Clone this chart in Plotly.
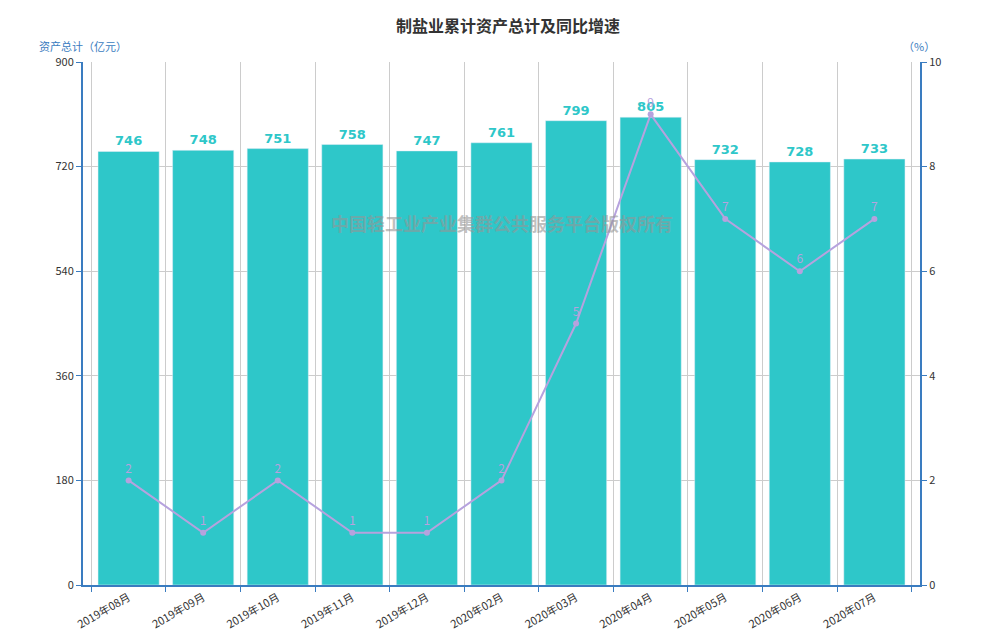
import plotly.graph_objects as go

months = ["2019年08月", "2019年09月", "2019年10月", "2019年11月", "2019年12月", "2020年02月",
          "2020年03月", "2020年04月", "2020年05月", "2020年06月", "2020年07月"]
assets = [746, 748, 751, 758, 747, 761, 799, 805, 732, 728, 733]
growth = [2, 1, 2, 1, 1, 2, 5, 9, 7, 6, 7]

fig = go.Figure()
fig.add_trace(go.Bar(
    x=months, y=assets, marker_color="#2ec7c9", width=0.82,
    text=assets, texttemplate="<b>%{text}</b>", textposition="outside", cliponaxis=False,
    textfont=dict(color="#2ec7c9", size=13, family="DejaVu Sans"),
))
fig.add_trace(go.Scatter(
    x=months, y=growth, yaxis="y2", mode="lines+markers+text",
    line=dict(color="#b6a2de", width=2), marker=dict(size=6, color="#b6a2de"),
    text=growth, textposition="top center", textfont=dict(color="#b6a2de", size=12),
    cliponaxis=False,
))

fig.update_layout(
    width=1000, height=640, plot_bgcolor="white", paper_bgcolor="white",
    margin=dict(l=75, r=88, t=54, b=63), showlegend=False, bargap=0.18,
    font=dict(family="Noto Sans CJK SC", color="#333", size=11),
    title=dict(text="<b>制盐业累计资产总计及同比增速</b>", x=0.5, y=0.98, font=dict(size=16, color="#333")),
    xaxis=dict(showgrid=True, gridcolor="#ccc", tickangle=-30, showline=True, linecolor="#3a7cc0",
               tickson="boundaries", linewidth=2, ticks="outside", tickcolor="#3a7cc0"),
    yaxis=dict(range=[0, 900], tickvals=[0, 180, 360, 540, 720, 900], gridcolor="#ccc",
               showline=True, linecolor="#3a7cc0", linewidth=2, ticks="outside", tickcolor="#3a7cc0",
               zeroline=False),
    yaxis2=dict(range=[0, 10], tickvals=[0, 2, 4, 6, 8, 10], overlaying="y", side="right",
                showgrid=False, showline=True, linecolor="#3a7cc0", linewidth=2, ticks="outside",
                tickcolor="#3a7cc0", zeroline=False),
    annotations=[
        dict(text="资产总计（亿元）", xref="paper", yref="paper", x=-0.055, y=1.0, yshift=6, xanchor="left",
             yanchor="bottom", showarrow=False, font=dict(color="#3a7cc0", size=11)),
        dict(text="（%）", xref="paper", yref="paper", x=1.02, y=1.0, yshift=6, xanchor="right",
             yanchor="bottom", showarrow=False, font=dict(color="#3a7cc0", size=11)),
        dict(text="<b>中国轻工业产业集群公共服务平台版权所有</b>", xref="paper", yref="paper", x=0.5, y=0.72,
             showarrow=False, font=dict(color="rgba(150,150,150,0.6)", size=18)),
    ],
)
fig.write_html("out.html")
